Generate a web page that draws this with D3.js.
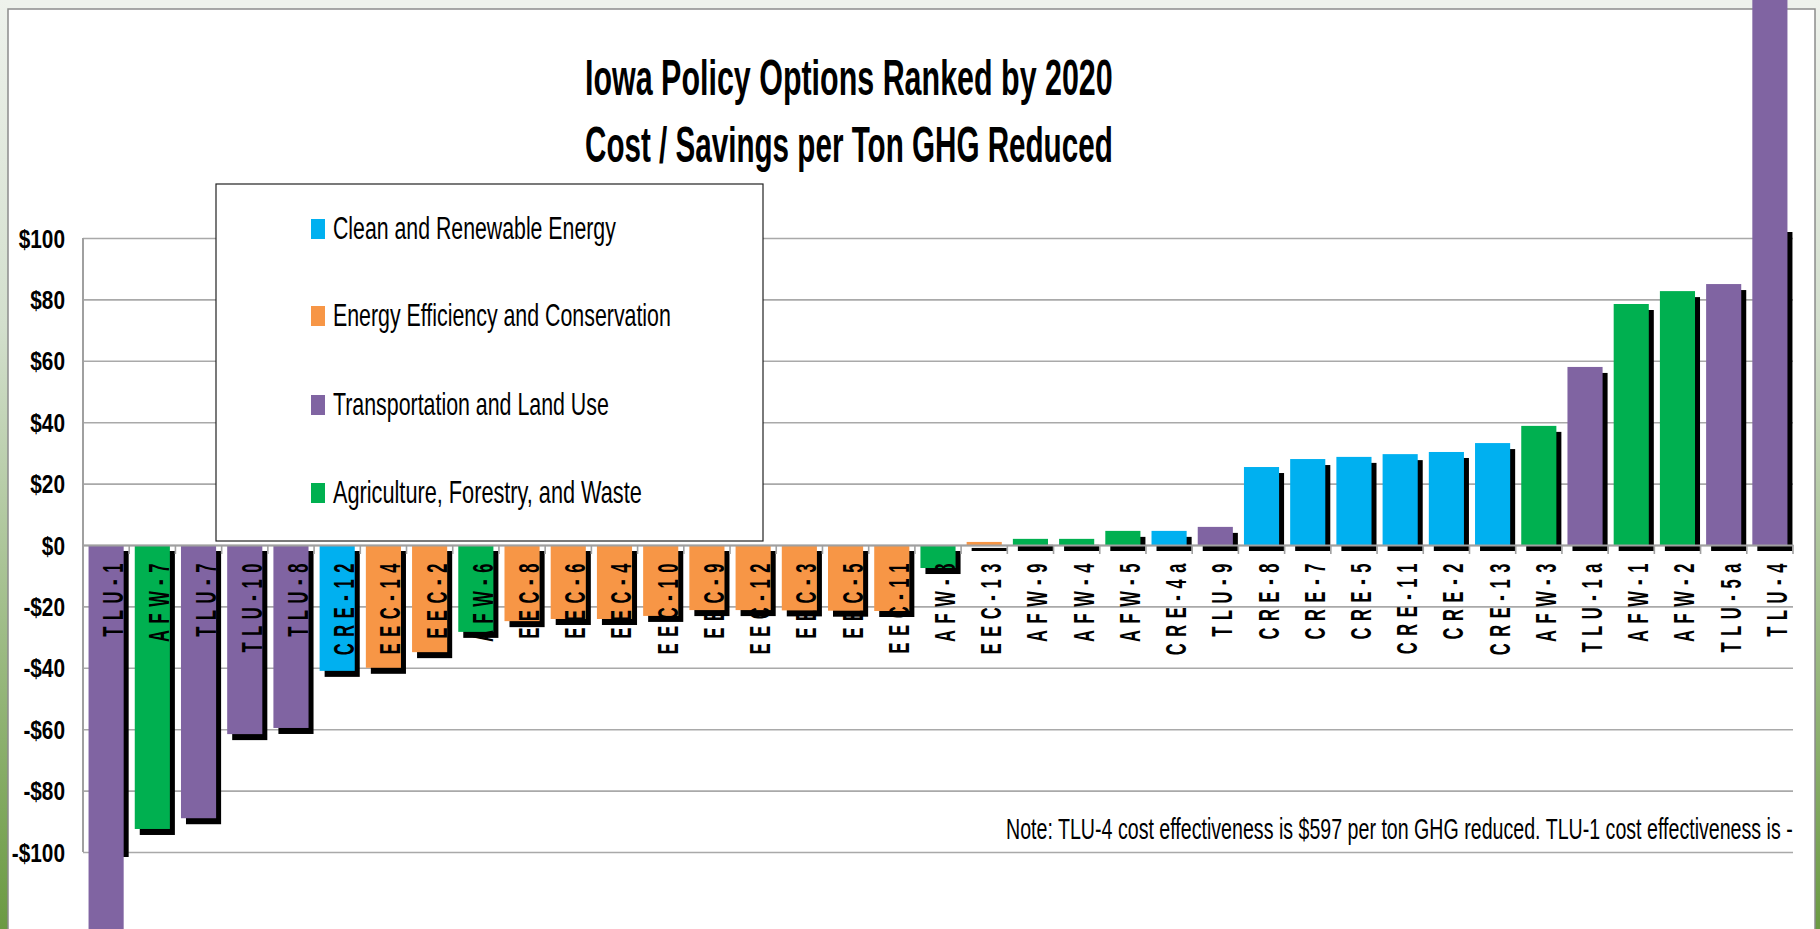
<!DOCTYPE html>
<html><head><meta charset="utf-8">
<script src="https://cdn.jsdelivr.net/npm/d3@7"></script>
<style>body{margin:0;overflow:hidden;background:#fff}svg{display:block}</style>
</head><body><svg id="c" width="1820" height="929"></svg>
<script>
// ---- data ----
const categories = ["TLU-1","AFW-7","TLU-7","TLU-10","TLU-8","CRE-12","EEC-14","EEC-2","AFW-6","EEC-8","EEC-6","EEC-4","EEC-10","EEC-9","EEC-12","EEC-3","EEC-5","EEC-11","AFW-8","EEC-13","AFW-9","AFW-4","AFW-5","CRE-4a","TLU-9","CRE-8","CRE-7","CRE-5","CRE-11","CRE-2","CRE-13","AFW-3","TLU-1a","AFW-1","AFW-2","TLU-5a","TLU-4"];
const groups = ["TLU","AFW","TLU","TLU","TLU","CRE","EEC","EEC","AFW","EEC","EEC","EEC","EEC","EEC","EEC","EEC","EEC","EEC","AFW","EEC","AFW","AFW","AFW","CRE","TLU","CRE","CRE","CRE","CRE","CRE","CRE","AFW","TLU","AFW","AFW","TLU","TLU"];
const values = [-200,-92.5,-89,-61.6,-59.6,-41,-40,-34.9,-28.3,-24.8,-24.1,-24.1,-23.1,-21.2,-21.2,-21.3,-21.4,-21.5,-7.5,1,2,2,4.6,4.6,5.9,25.4,28,28.7,29.6,30.3,33.2,38.8,58,78.5,82.7,85,597];
const yTicks = [-100,-80,-60,-40,-20,0,20,40,60,80,100];
const yTickLabels = ["-$100","-$80","-$60","-$40","-$20","$0","$20","$40","$60","$80","$100"];
const groupKeys = ["CRE","EEC","TLU","AFW"];
const legendLabels = ["Clean and Renewable Energy","Energy Efficiency and Conservation","Transportation and Land Use","Agriculture, Forestry, and Waste"];
const groupColors = ["#00B0F0","#F79646","#8064A2","#00B050"];
const titleLines = ["Iowa Policy Options Ranked by 2020","Cost /  Savings per Ton GHG Reduced"];
const noteText = "Note: TLU-4 cost effectiveness is $597 per ton GHG reduced.  TLU-1 cost effectiveness is -";

const svg = d3.select("#c");
const FONT = "'Liberation Sans', Arial, sans-serif";
const color = d3.scaleOrdinal().domain(groupKeys).range(groupColors);

// fit a text horizontally to a target width by a scale transform
function fitText(sel, x, y, target) {
  sel.each(function(){
    const w = this.getComputedTextLength();
    const s = w > 0 ? target / w : 1;
    d3.select(this).attr("x",0).attr("y",0)
      .attr("transform",`translate(${x},${y}) scale(${s},1)`);
  });
}

// ---- background (slide) ----
const defs = svg.append("defs");
const lg = defs.append("linearGradient").attr("id","side").attr("x1",0).attr("y1",0).attr("x2",0).attr("y2",1);
lg.append("stop").attr("offset","0%").attr("stop-color","#eef2ec");
lg.append("stop").attr("offset","35%").attr("stop-color","#d3dfcd");
lg.append("stop").attr("offset","100%").attr("stop-color","#6b9a42");
svg.append("rect").attr("x",0).attr("y",0).attr("width",1820).attr("height",929).attr("fill","#eef2ec");
svg.append("rect").attr("x",0).attr("y",0).attr("width",8).attr("height",929).attr("fill","url(#side)");
svg.append("rect").attr("x",1815).attr("y",0).attr("width",5).attr("height",929).attr("fill","url(#side)");
svg.append("rect").attr("x",8).attr("y",9).attr("width",1807).attr("height",925)
  .attr("fill","#fff").attr("stroke","#8c8c8c").attr("stroke-width",1.5);

// ---- scales ----
const x0 = 83, x1 = 1793;
const x = d3.scaleBand().domain(categories).range([x0,x1]).paddingInner(0.24).paddingOuter(0.12);
const y = d3.scaleLinear().domain([-100,100]).range([852,238]);
const step = x.step(), bw = x.bandwidth();

// ---- gridlines ----
const grid = svg.append("g").attr("transform",`translate(${x0},0)`)
  .call(d3.axisLeft(y).tickValues(yTicks).tickSize(-(x1-x0)).tickFormat(""));
grid.select(".domain").remove();
grid.selectAll(".tick line").attr("stroke","#a9a9a9").attr("stroke-width",1.6);

// y axis line
svg.append("line").attr("x1",x0).attr("x2",x0).attr("y1",y(100)).attr("y2",y(-100))
  .attr("stroke","#a0a0a0").attr("stroke-width",2);

// y tick labels
svg.append("g").selectAll("text").data(yTicks).join("text")
  .attr("transform",d=>`translate(65,${y(d)+9.5}) scale(0.8,1)`)
  .attr("text-anchor","end").attr("font-family",FONT).attr("font-weight","bold")
  .attr("font-size",26).attr("fill","#000")
  .text((d,i)=>yTickLabels[i]);

// ---- title ----
svg.append("g").selectAll("text").data(titleLines).join("text")
  .attr("font-family",FONT).attr("font-weight","bold").attr("font-size",50)
  .attr("fill","#000").text(d=>d)
  .each(function(d,i){ fitText(d3.select(this), 585, i===0?95:162, 528); });

// ---- legend ----
const leg = svg.append("g");
leg.append("rect").attr("x",216).attr("y",184).attr("width",547).attr("height",357)
  .attr("fill","#fff").attr("stroke","#222").attr("stroke-width",1.2);
const legBase = [239,326,415,503];
const legLen = [283,338,276,309];
const li = leg.selectAll("g.item").data(groupKeys).join("g").attr("class","item");
li.append("rect").attr("x",311).attr("y",(d,i)=>legBase[i]-20).attr("width",14).attr("height",20)
  .attr("fill",d=>color(d));
li.append("text")
  .attr("font-family",FONT).attr("font-size",31).attr("fill","#000")
  .text((d,i)=>legendLabels[i])
  .each(function(d,i){ fitText(d3.select(this), 333, legBase[i], legLen[i]); });

// ---- bars ----
const data = categories.map((c,i)=>({c, g:groups[i], v:values[i]}));
defs.append("clipPath").attr("id","shclip").append("rect")
  .attr("x",0).attr("y",232).attr("width",1820).attr("height",857-232);
svg.append("g").attr("clip-path","url(#shclip)").selectAll("rect").data(data).join("rect")
  .attr("x",d=>x(d.c)+5).attr("width",bw)
  .attr("y",d=>y(Math.max(0,d.v))+6)
  .attr("height",d=>Math.abs(y(d.v)-y(0)))
  .attr("fill","#000");
svg.append("g").selectAll("rect").data(data).join("rect")
  .attr("x",d=>x(d.c)).attr("width",bw)
  .attr("y",d=>y(Math.max(0,d.v)))
  .attr("height",d=>Math.abs(y(d.v)-y(0)))
  .attr("fill",d=>color(d.g));

// ---- category axis ----
const xa = svg.append("g").attr("transform",`translate(0,${y(0)})`)
  .call(d3.axisBottom(x).tickSize(0).tickFormat(""));
xa.select(".domain").attr("stroke","#a0a0a0").attr("stroke-width",2.2);
svg.append("g").selectAll("line").data(d3.range(categories.length+1)).join("line")
  .attr("x1",i=>x0+i*step).attr("x2",i=>x0+i*step)
  .attr("y1",y(0)).attr("y2",y(0)+9)
  .attr("stroke","#a0a0a0").attr("stroke-width",1.6);

// category labels (rotated, inside plot)
svg.append("g").selectAll("text").data(data).join("text")
  .attr("transform",d=>`translate(${x(d.c)+bw/2+17},557) rotate(-90) scale(0.55,1)`)
  .attr("text-anchor","end").attr("font-family",FONT).attr("font-weight","bold")
  .attr("font-size",30).attr("letter-spacing",12).attr("fill","#000")
  .text(d=>d.c);

// ---- note ----
svg.append("text")
  .attr("font-family",FONT).attr("font-size",29).attr("fill","#000")
  .text(noteText)
  .call(s=>fitText(s, 1006, 839, 787));
</script>
</body></html>
